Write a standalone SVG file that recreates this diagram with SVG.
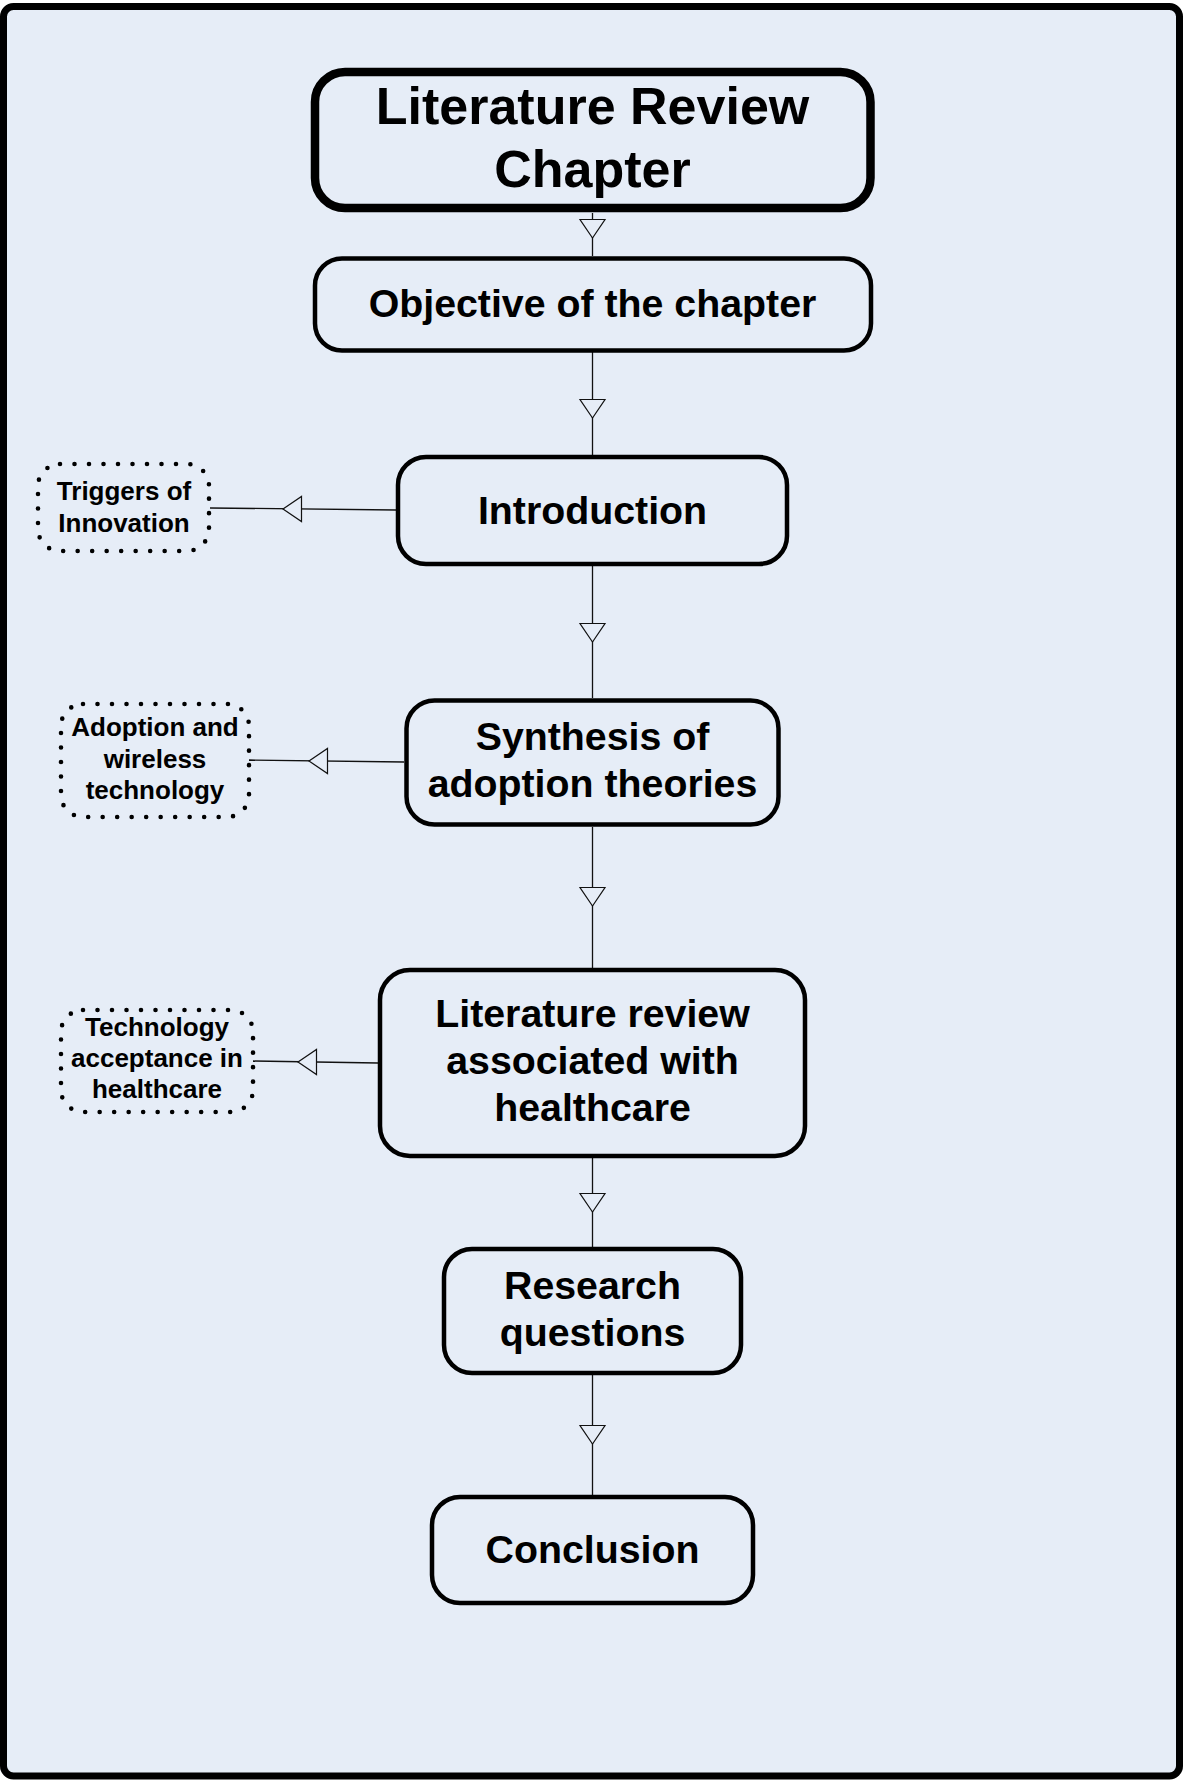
<svg xmlns="http://www.w3.org/2000/svg" xmlns:xlink="http://www.w3.org/1999/xlink" width="1184" height="1780" viewBox="0 0 1184 1780">
  <style>
    .frame { fill: #E6EDF7; stroke: #000; stroke-width: 7; }
    .box { fill: #E6EDF7; stroke: #000; stroke-width: 4.5; }
    .box-main { fill: #E6EDF7; stroke: #000; stroke-width: 8.5; }
    .note { fill: #E6EDF7; stroke: #000; stroke-width: 4.6; stroke-dasharray: 0 14.5; stroke-linecap: round; }
    .lbl { font-family: "Liberation Sans", Arial, sans-serif; font-weight: bold; fill: #000; text-anchor: middle; }
    .big { font-size: 52px; }
    .mid { font-size: 39.3px; }
    .small { font-size: 26px; }
    .link { stroke: #111; stroke-width: 1.3; fill: none; }
    .head { fill: #E6EDF7; stroke: #111; stroke-width: 1.2; }
  </style>
  <defs>
    <!-- hollow triangle, tip at the origin, pointing down -->
    <path id="tri" d="M-12.5,-18.5 L12.5,-18.5 L0,0 Z"/>
  </defs>

  <rect class="frame" x="3.5" y="6.5" width="1176" height="1769.5" rx="10"/>

  <!-- connectors -->
  <g id="connectors">
    <line class="link" x1="592.5" y1="213" x2="592.5" y2="256"/>
    <use href="#tri" class="head" transform="translate(592.5,238)"/>
    <line class="link" x1="592.5" y1="352" x2="592.5" y2="455"/>
    <use href="#tri" class="head" transform="translate(592.5,418)"/>
    <line class="link" x1="592.5" y1="566" x2="592.5" y2="698"/>
    <use href="#tri" class="head" transform="translate(592.5,642)"/>
    <line class="link" x1="592.5" y1="827" x2="592.5" y2="968"/>
    <use href="#tri" class="head" transform="translate(592.5,906)"/>
    <line class="link" x1="592.5" y1="1158" x2="592.5" y2="1247"/>
    <use href="#tri" class="head" transform="translate(592.5,1212)"/>
    <line class="link" x1="592.5" y1="1375" x2="592.5" y2="1495"/>
    <use href="#tri" class="head" transform="translate(592.5,1444)"/>

    <line class="link" x1="396" y1="510" x2="210" y2="508"/>
    <use href="#tri" class="head" transform="translate(283,509) rotate(90)"/>
    <line class="link" x1="404" y1="762" x2="249" y2="760"/>
    <use href="#tri" class="head" transform="translate(309,761) rotate(90)"/>
    <line class="link" x1="378" y1="1063" x2="253" y2="1061"/>
    <use href="#tri" class="head" transform="translate(298,1062) rotate(90)"/>
  </g>

  <g id="node-title">
    <rect class="box-main" x="315" y="72" width="555.5" height="136" rx="30"/>
    <text class="lbl big" x="592.5" y="124">Literature Review</text>
    <text class="lbl big" x="592.5" y="187">Chapter</text>
  </g>

  <g id="node-objective">
    <rect class="box" x="315" y="258.5" width="556" height="92" rx="27"/>
    <text class="lbl mid" x="592.5" y="317">Objective of the chapter</text>
  </g>

  <g id="node-introduction">
    <rect class="box" x="398" y="457" width="389" height="107" rx="28"/>
    <text class="lbl mid" x="592.5" y="524">Introduction</text>
  </g>

  <g id="node-synthesis">
    <rect class="box" x="406.5" y="700.5" width="372" height="124" rx="28"/>
    <text class="lbl mid" x="592.5" y="750">Synthesis of</text>
    <text class="lbl mid" x="592.5" y="797">adoption theories</text>
  </g>

  <g id="node-literature">
    <rect class="box" x="380" y="970" width="425" height="186" rx="30"/>
    <text class="lbl mid" x="592.5" y="1027">Literature review</text>
    <text class="lbl mid" x="592.5" y="1074">associated with</text>
    <text class="lbl mid" x="592.5" y="1121">healthcare</text>
  </g>

  <g id="node-research">
    <rect class="box" x="444" y="1249" width="297" height="124" rx="28"/>
    <text class="lbl mid" x="592.5" y="1299">Research</text>
    <text class="lbl mid" x="592.5" y="1346">questions</text>
  </g>

  <g id="node-conclusion">
    <rect class="box" x="432" y="1497" width="321" height="106" rx="28"/>
    <text class="lbl mid" x="592.5" y="1563">Conclusion</text>
  </g>

  <g id="node-triggers">
    <rect class="note" x="38" y="464" width="171" height="87" rx="22"/>
    <text class="lbl small" x="124" y="500">Triggers of</text>
    <text class="lbl small" x="124" y="532">Innovation</text>
  </g>

  <g id="node-adoption">
    <rect class="note" x="61" y="704" width="188" height="113" rx="22"/>
    <text class="lbl small" x="155" y="736">Adoption and</text>
    <text class="lbl small" x="155" y="768">wireless</text>
    <text class="lbl small" x="155" y="799">technology</text>
  </g>

  <g id="node-technology">
    <rect class="note" x="61" y="1010" width="192" height="102" rx="22"/>
    <text class="lbl small" x="157" y="1036">Technology</text>
    <text class="lbl small" x="157" y="1067">acceptance in</text>
    <text class="lbl small" x="157" y="1098">healthcare</text>
  </g>
</svg>
